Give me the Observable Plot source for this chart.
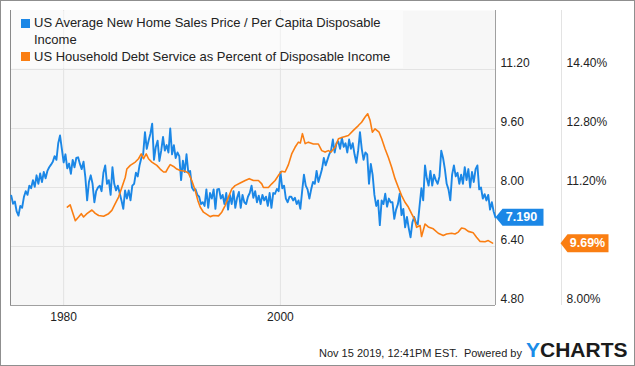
<!DOCTYPE html>
<html>
<head>
<meta charset="utf-8">
<script src="https://cdn.jsdelivr.net/npm/d3@7"></script>
<script src="https://cdn.jsdelivr.net/npm/@observablehq/plot@0.6"></script>
<style>
  html, body { margin: 0; padding: 0; background: #fff; }
  #wrap { position: relative; width: 635px; height: 366px; overflow: hidden;
          font-family: "Liberation Sans", Arial, sans-serif; color: #222; }
  #chart { position: absolute; left: 0; top: 0; }
  #border { position: absolute; left: 0; top: 0; width: 635px; height: 366px;
            box-sizing: border-box; border: 1px solid #8f8f8f; pointer-events: none; }
  #legend { position: absolute; left: 11px; top: 11px; width: 392px; height: 57px;
            background: rgba(255,255,255,0.45); }
  .sq { position: absolute; width: 9px; height: 9px; }
  .lt { position: absolute; font-size: 13px; line-height: 17px; white-space: nowrap; color: #222; }
  #foot { position: absolute; right: 113px; top: 347.5px; font-size: 11px; line-height: 11px;
          white-space: nowrap; color: #222; }
  #logo { position: absolute; left: 526px; top: 339px; font-size: 21px; line-height: 21px;
          font-weight: bold; white-space: nowrap; }
</style>
</head>
<body>
<div id="wrap">
  <div id="chart"></div>
  <div id="legend"></div>
  <div class="sq" id="sq1" style="left:21px;top:18.5px;"></div>
  <div class="lt" id="lt1" style="left:34px;top:14.3px;"></div>
  <div class="sq" id="sq2" style="left:21px;top:52px;"></div>
  <div class="lt" id="lt2" style="left:34px;top:47.7px;"></div>
  <div id="foot">Nov 15 2019, 12:41PM EST.&nbsp; Powered by</div>
  <div id="logo"><span style="color:#1a8ce8">Y</span><span style="color:#1b1b1b">CHARTS</span></div>
  <div id="border"></div>
</div>
<script>
// ---- series names ----
const blueName = "US Average New Home Sales Price / Per Capita Disposable Income";
const orangeName = "US Household Debt Service as Percent of Disposable Income";
const blueColor = "#1b87e6";
const orangeColor = "#fa7e12";

// ---- axis ticks ----
const xTicks = [1980, 2000];
const yTicks = [4.8, 6.4, 8.0, 9.6, 11.2];          // left value axis
const pctTicks = [4.8, 8.0, 9.6, 11.2];             // right % axis (9.60% hidden by the tag)
const pctOffset = 3.2;                              // right axis: 8.00% ... 14.40%

// ---- blue series: bimonthly readings from Mar 1975 ----
const blueStart = 1975.17;
const blueStep = 1 / 6;
const blueValues = [
  7.78, 7.56, 7.62, 7.35, 7.24, 7.5, 7.45, 7.74, 7.9, 7.8, 8.05, 7.98, 8.2, 8.02, 8.33, 8.1, 8.38, 8.15, 8.42, 8.25,
  8.45, 8.55, 8.62, 8.7, 8.85, 8.75, 9.2, 9.41, 9.05, 8.68, 8.9, 8.52, 8.65, 8.37, 8.75, 8.55, 8.8,
  8.82, 8.64, 8.5, 8.7, 8.28, 7.65, 8.15, 8.33, 8.1, 7.6, 7.9, 8.0, 8.05, 7.9, 8.4, 8.6, 8.1, 8.2, 7.8, 8.55,
  8.1, 7.92, 8.05, 7.85, 7.65, 7.42, 7.92, 7.7, 7.92, 7.65, 8.05, 8.1, 8.4, 8.3, 8.6, 8.8, 8.9, 9.5, 9.05,
  9.27, 9.46, 9.73, 8.75, 9.1, 9.27, 8.72, 9.0, 9.37, 9.0, 9.15, 8.95, 9.6, 8.9, 9.15, 8.8, 8.95, 8.85, 8.2, 8.73,
  8.42, 8.9, 8.4, 8.45, 8.0, 7.92, 7.95, 7.8, 7.75, 7.55, 7.6, 7.5, 7.95, 7.45, 7.85, 7.7, 7.95, 7.42, 7.95,
  7.96, 7.7, 7.8, 7.55, 7.85, 7.4, 7.8, 7.55, 7.9, 7.45, 7.72, 7.88, 7.45, 7.8, 7.6, 7.55, 7.75, 7.85, 8.05, 7.72,
  7.9, 7.6, 7.78, 7.55, 7.8, 7.65, 7.75, 7.5, 7.85, 7.45, 7.85, 7.83, 7.96, 7.9, 8.42, 7.98, 8.05, 7.7, 7.6,
  7.75, 7.75, 7.65, 7.72, 7.55, 7.65, 7.42, 7.9, 8.35, 8.05, 7.95, 7.7, 7.95, 8.15, 8.1, 8.45, 8.15, 8.32, 8.5, 8.8,
  8.6, 8.75, 8.9, 9.0, 9.3, 8.95, 9.2, 9.25, 9.05, 9.35, 9.1, 9.2, 8.95, 9.3, 9.05, 9.2, 8.9, 8.67, 9.0,
  9.5, 9.05, 8.75, 8.95, 8.9, 8.1, 8.64, 8.35, 7.8, 7.5, 7.65, 6.98, 7.65, 7.55, 7.83, 7.48, 7.7, 7.6, 7.6, 7.15,
  7.4, 7.55, 7.83, 7.25, 7.42, 6.92, 7.2, 6.9, 6.65, 7.05, 7.2, 7.05, 7.0, 7.5, 7.98, 7.65, 8.6, 8.25, 8.05,
  8.45, 8.05, 8.35, 8.2, 8.1, 8.3, 9.0, 8.8, 8.5, 8.1, 7.95, 7.65, 8.35, 8.6, 8.3, 8.4, 8.1, 8.35, 8.1, 8.55,
  8.2, 8.5, 8.0, 8.42, 8.15, 8.5, 8.6, 7.95, 8.0, 7.7, 7.82, 7.65, 7.8, 7.4, 7.6, 7.35, 7.19
];

// ---- orange series (percent) ----
const orangeYears = [
  1980.34, 1980.60, 1981.08, 1981.38, 1981.63, 1981.84, 1982.15, 1982.61, 1982.92, 1983.23,
  1983.69, 1984.15, 1984.45, 1984.76, 1985.07, 1985.37, 1985.69, 1985.83, 1986.15, 1986.61,
  1986.91, 1987.16, 1987.37, 1987.62, 1987.83, 1988.14, 1988.60, 1988.91, 1989.22, 1989.43,
  1989.68, 1989.83, 1990.14, 1990.44, 1990.76, 1991.22, 1991.52, 1991.82, 1992.14, 1992.38,
  1992.60, 1992.90, 1993.21, 1993.52, 1993.82, 1994.29, 1994.59, 1994.90, 1995.21, 1995.51,
  1995.82, 1996.29, 1996.75, 1997.12, 1997.51, 1997.97, 1998.28, 1998.43, 1998.89, 1999.20,
  1999.51, 1999.82, 2000.12, 2000.43, 2000.74, 2001.04, 2001.35, 2001.66, 2001.84, 2002.03,
  2002.28, 2002.58, 2003.04, 2003.50, 2003.81, 2004.12, 2004.42, 2004.67, 2005.04, 2005.35,
  2005.81, 2006.27, 2006.73, 2007.19, 2007.49, 2007.81, 2008.05, 2008.27, 2008.48, 2008.73,
  2009.10, 2009.34, 2009.65, 2009.95, 2010.26, 2010.57, 2010.88, 2011.18, 2011.49, 2011.80,
  2012.10, 2012.35, 2012.56, 2012.88, 2013.02, 2013.34, 2013.64, 2014.10, 2014.56, 2015.02,
  2015.33, 2015.79, 2016.10, 2016.41, 2016.71, 2017.02, 2017.33, 2017.79, 2018.09, 2018.40,
  2018.87, 2019.17, 2019.57
];
const orangePct = [
  10.67, 10.73, 10.30, 10.40, 10.49, 10.40, 10.49, 10.59, 10.50, 10.44,
  10.42, 10.49, 10.58, 10.76, 10.94, 11.20, 11.48, 11.70, 11.80, 11.89,
  11.98, 12.11, 11.98, 12.11, 11.98, 11.89, 11.80, 11.70, 11.62, 11.62,
  11.75, 11.82, 11.77, 11.70, 11.66, 11.64, 11.59, 11.39, 11.12, 10.85,
  10.67, 10.53, 10.47, 10.41, 10.44, 10.43, 10.53, 10.71, 10.94, 11.16,
  11.25, 11.32, 11.39, 11.44, 11.39, 11.39, 11.30, 11.20, 11.20, 11.30,
  11.39, 11.53, 11.64, 11.62, 11.82, 12.11, 12.29, 12.43, 12.41, 12.66,
  12.39, 12.43, 12.38, 12.38, 12.20, 12.16, 12.20, 12.16, 12.29, 12.52,
  12.57, 12.61, 12.75, 12.88, 12.97, 13.11, 13.20, 13.02, 12.70, 12.79,
  12.70, 12.52, 12.25, 12.02, 11.75, 11.44, 11.20, 10.98, 10.80, 10.67,
  10.49, 10.35, 10.12, 10.17, 9.87, 10.21, 10.13, 10.08, 9.96, 9.90,
  9.94, 9.96, 9.94, 9.99, 10.10, 10.08, 10.01, 9.97, 9.85, 9.74,
  9.73, 9.76, 9.69
];

// ---- build tables ----
const blueData = blueValues.map((v, i) => ({t: blueStart + i * blueStep, v}));
const orangeData = orangeYears.map((t, i) => ({t, v: orangePct[i] - pctOffset}));
const xDomain = [1975.1, 2019.84];
const yDomain = [4.8, 12.8];
const blueLast = blueValues[blueValues.length - 1];
const orangeLast = orangePct[orangePct.length - 1];
const blueTag = [{t: xDomain[1], v: blueLast, label: blueLast.toFixed(3)}];
const orangeTag = [{t: xDomain[1], v: orangeLast - pctOffset, label: orangeLast.toFixed(2) + "%"}];

const tagShape = (w, h, a) => ({
  draw(ctx) {
    ctx.moveTo(0, 0);
    ctx.lineTo(a, -h / 2);
    ctx.lineTo(w, -h / 2);
    ctx.lineTo(w, h / 2);
    ctx.lineTo(a, h / 2);
    ctx.closePath();
  }
});

const chart = Plot.plot({
  width: 635,
  height: 366,
  marginLeft: 10,
  marginRight: 140,
  marginTop: 10,
  marginBottom: 61,
  style: {fontFamily: "'Liberation Sans', Arial, sans-serif", fontSize: "12px", color: "#222", background: "transparent", overflow: "visible"},
  x: {domain: xDomain, label: null},
  y: {domain: yDomain, label: null},
  marks: [
    Plot.frame({fill: "#f7f7f7", stroke: "none"}),
    Plot.gridX({ticks: xTicks, stroke: "#e3e3e3", strokeOpacity: 1}),
    Plot.gridY({ticks: yTicks.slice(1), stroke: "#e3e3e3", strokeOpacity: 1}),
    Plot.ruleX([xDomain[0]], {stroke: "#8a8a8a"}),
    Plot.ruleX([xDomain[1]], {stroke: "#a0a0a0"}),
    Plot.ruleY([yDomain[0]], {stroke: "#a0a0a0"}),
    Plot.ruleX([xDomain[1]], {dx: 66, stroke: "#e3e3e3"}),
    Plot.lineY(blueData, {x: "t", y: "v", stroke: blueColor, strokeWidth: 1.9}),
    Plot.lineY(orangeData, {x: "t", y: "v", stroke: orangeColor, strokeWidth: 1.6}),
    Plot.axisX({ticks: xTicks, tickFormat: d => String(d), tickSize: 0, tickPadding: 7, label: null, fill: "#222"}),
    Plot.axisY({anchor: "right", ticks: yTicks, tickFormat: d => d.toFixed(2), tickSize: 0, tickPadding: 5, dy: -6, label: null, fill: "#222"}),
    Plot.axisY({anchor: "right", ticks: pctTicks, tickFormat: d => (d + pctOffset).toFixed(2) + "%", tickSize: 0, tickPadding: 5, dx: 66, dy: -6, label: null, fill: "#222"}),
    Plot.dot(blueTag, {x: "t", y: "v", symbol: tagShape(48, 17, 7), fill: blueColor, stroke: "none"}),
    Plot.text(blueTag, {x: "t", y: "v", text: "label", dx: 26, fill: "white", fontWeight: "bold", fontSize: 12.5}),
    Plot.dot(orangeTag, {x: "t", y: "v", dx: 65, symbol: tagShape(48, 18, 7), fill: orangeColor, stroke: "none"}),
    Plot.text(orangeTag, {x: "t", y: "v", text: "label", dx: 92, fill: "white", fontWeight: "bold", fontSize: 12.5})
  ]
});
document.getElementById("chart").appendChild(chart);

document.getElementById("sq1").style.background = blueColor;
document.getElementById("sq2").style.background = orangeColor;
document.getElementById("lt1").innerHTML = "US Average New Home Sales Price / Per Capita Disposable<br>Income";
document.getElementById("lt2").textContent = orangeName;
</script>
</body>
</html>
